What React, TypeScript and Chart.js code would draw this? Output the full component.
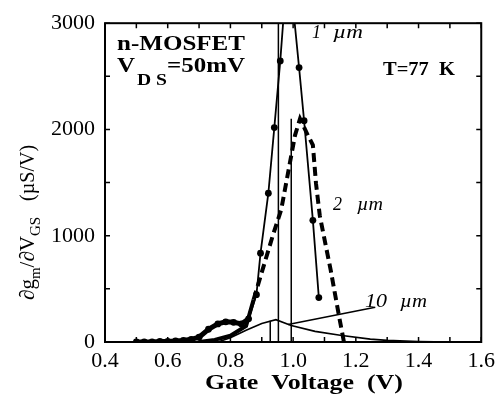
import { useEffect, useRef } from "react";
import { Chart, registerables } from "chart.js";

Chart.register(...registerables);

// Gate voltage (V) and ∂gm/∂VGS (µS/V) for three channel lengths at 77 K
const gateV1um = [0.5, 0.525, 0.55, 0.575, 0.6, 0.625, 0.65, 0.675, 0.7, 0.73, 0.76, 0.785, 0.81, 0.835, 0.858, 0.883, 0.896, 0.921, 0.94, 0.959, 0.968, 1.005, 1.019, 1.035, 1.063, 1.082];
const dgm1um = [0, 0, 0, 5, 5, 10, 15, 25, 45, 120, 170, 190, 185, 170, 218, 445, 836, 1400, 2018, 2645, 3000, 3000, 2582, 2082, 1145, 418];

const gateV2um = [0.7, 0.75, 0.8, 0.85, 0.874, 0.911, 0.935, 0.962, 0.99, 1.006, 1.022, 1.047, 1.063, 1.073, 1.085, 1.12, 1.148, 1.158, 1.162];
const dgm2um = [0, 20, 60, 150, 400, 764, 1000, 1245, 1690, 1945, 2100, 1945, 1854, 1490, 1190, 673, 218, 64, 0];

const gateV10um = [0.76, 0.8, 0.85, 0.9, 0.945, 0.994, 1.07, 1.15, 1.246, 1.3, 1.4, 1.5, 1.6];
const dgm10um = [0, 40, 110, 175, 210, 155, 100, 64, 27, 15, 5, 0, 0];

// Vertical markers at the peak voltages
const peakV = [0.927, 0.953, 0.994];
const peakTop = [200, 3000, 2100];

// Leader line from the "10 µm" label to its curve
const leaderV = [0.984, 1.262];
const leaderG = [164, 327];

const xTickValues = [0.4, 0.6, 0.8, 1.0, 1.2, 1.4, 1.6];
const yTickValues = [0, 1000, 2000, 3000];
const xMinorStep = 0.1;
const yMinorStep = 500;

// below this gate voltage the measured traces are drawn heavy
const heavyBelow = 0.86;

const toPoints = (xs: number[], ys: number[]) => xs.map((x, i) => ({ x, y: ys[i] }));

const SERIF = '"Liberation Serif"';

function fitText(ctx: CanvasRenderingContext2D, text: string, x: number, y: number, width?: number) {
  if (!width) {
    ctx.fillText(text, x, y);
    return;
  }
  const w = ctx.measureText(text).width;
  ctx.save();
  ctx.translate(x, y);
  ctx.scale(width / w, 1);
  ctx.fillText(text, 0, 0);
  ctx.restore();
}

const framePlugin = {
  id: "frameAndNotes",
  afterDraw(chart: any) {
    const { ctx, chartArea, scales } = chart;
    const { left, right, top, bottom } = chartArea;
    const xs = scales.x;
    const ys = scales.y;
    ctx.save();
    ctx.strokeStyle = "#000";
    ctx.fillStyle = "#000";
    ctx.lineWidth = 2;
    ctx.strokeRect(left, top, right - left, bottom - top);

    // inward ticks
    ctx.lineWidth = 1.5;
    const tl = 5;
    ctx.beginPath();
    for (let v = xs.min; v <= xs.max + 1e-9; v += xMinorStep) {
      const px = xs.getPixelForValue(v);
      ctx.moveTo(px, bottom);
      ctx.lineTo(px, bottom - tl);
      ctx.moveTo(px, top);
      ctx.lineTo(px, top + tl);
    }
    for (let v = ys.min; v <= ys.max + 1e-9; v += yMinorStep) {
      const py = ys.getPixelForValue(v);
      ctx.moveTo(left, py);
      ctx.lineTo(left + tl, py);
      ctx.moveTo(right, py);
      ctx.lineTo(right - tl, py);
    }
    ctx.stroke();

    // annotations
    ctx.textBaseline = "alphabetic";
    ctx.textAlign = "left";
    ctx.font = `bold 21px ${SERIF}`;
    fitText(ctx, "n-MOSFET", 117, 50, 128);
    fitText(ctx, "V", 117, 72, 18);
    fitText(ctx, "=50mV", 167, 72, 78);
    ctx.font = `bold 16px ${SERIF}`;
    fitText(ctx, "D S", 137, 85, 30);
    ctx.font = `bold 19px ${SERIF}`;
    fitText(ctx, "T=77  K", 383, 75, 72);

    ctx.font = `italic 18px ${SERIF}`;
    fitText(ctx, "1", 312, 38);
    fitText(ctx, "µm", 333, 38, 30);
    fitText(ctx, "2", 333, 210);
    fitText(ctx, "µm", 357, 210, 26);
    fitText(ctx, "10", 365, 307, 22);
    fitText(ctx, "µm", 400, 307, 27);

    // x axis title
    ctx.font = `bold 20px ${SERIF}`;
    fitText(ctx, "Gate  Voltage  (V)", 205, 389, 198);

    // y axis title, rotated
    ctx.save();
    ctx.translate(34, 300);
    ctx.rotate(-Math.PI / 2);
    let cx = 0;
    const part = (t: string, size: number, dy: number) => {
      ctx.font = `${size}px ${SERIF}`;
      ctx.fillText(t, cx, dy);
      cx += ctx.measureText(t).width;
    };
    part("∂g", 21, 0);
    part("m", 15, 6);
    part("/∂V", 21, 0);
    part("GS", 15, 6);
    cx += 16;
    part("(µS/V)", 20, 0);
    ctx.restore();

    ctx.restore();
  },
};

export default function App() {
  const ref = useRef<HTMLCanvasElement | null>(null);

  useEffect(() => {
    const canvas = ref.current;
    if (!canvas) return;
    let chart: Chart | null = null;
    let cancelled = false;

    const build = () => {
      if (cancelled) return;
      const peakLines = peakV.map((v, i) => ({
        data: [
          { x: v, y: 0 },
          { x: v, y: peakTop[i] },
        ],
        borderColor: "#000",
        borderWidth: 1.5,
        pointRadius: 0,
        showLine: true,
      }));

      const points1um = toPoints(gateV1um, dgm1um);

      chart = new Chart(canvas, {
        type: "scatter",
        data: {
          datasets: [
            ...peakLines,
            {
              label: "10 µm",
              data: toPoints(gateV10um, dgm10um),
              borderColor: "#000",
              borderWidth: 1.6,
              pointRadius: 0,
              showLine: true,
            },
            {
              label: "leader",
              data: toPoints(leaderV, leaderG),
              borderColor: "#000",
              borderWidth: 1.6,
              pointRadius: 0,
              showLine: true,
            },
            {
              label: "2 µm",
              data: toPoints(gateV2um, dgm2um),
              borderColor: "#000",
              borderWidth: 4,
              borderCapStyle: "butt",
              pointRadius: 0,
              showLine: true,
              segment: {
                borderDash: (c: any) => (c.p0.parsed.x < heavyBelow ? [] : [9, 5]),
              },
            },
            {
              label: "1 µm (heavy foot)",
              data: points1um.filter((p) => p.x <= heavyBelow),
              borderColor: "#000",
              borderWidth: 5,
              pointRadius: 0,
              showLine: true,
            },
            {
              label: "1 µm",
              data: points1um,
              borderColor: "#000",
              borderWidth: 1.8,
              pointRadius: (c: any) => (c.raw && c.raw.y >= 3000 ? 0 : 3.4),
              pointBackgroundColor: "#000",
              pointBorderWidth: 0,
              showLine: true,
            },
          ] as any,
        },
        options: {
          responsive: false,
          animation: false,
          devicePixelRatio: 1,
          layout: { padding: { top: 14, right: 18, left: 0, bottom: 0 } },
          plugins: {
            legend: { display: false },
            tooltip: { enabled: false },
          },
          scales: {
            x: {
              type: "linear",
              min: 0.4,
              max: 1.6,
              afterBuildTicks: (s: any) => {
                s.ticks = xTickValues.map((value) => ({ value }));
              },
              afterFit: (s: any) => {
                s.height = 66;
              },
              ticks: {
                color: "#000",
                font: { family: SERIF, size: 22 },
                padding: 6,
                maxRotation: 0,
                callback: (v: any) => Number(v).toFixed(1),
              },
              grid: { display: false, drawTicks: false },
              border: { display: false },
            },
            y: {
              type: "linear",
              min: 0,
              max: 3000,
              afterBuildTicks: (s: any) => {
                s.ticks = yTickValues.map((value) => ({ value }));
              },
              afterFit: (s: any) => {
                s.width = 105;
              },
              ticks: {
                color: "#000",
                font: { family: SERIF, size: 22 },
                padding: 10,
                callback: (v: any) => String(v),
              },
              grid: { display: false, drawTicks: false },
              border: { display: false },
            },
          },
        },
        plugins: [framePlugin],
      } as any);
    };

    const fonts = (document as any).fonts;
    if (fonts && fonts.load) {
      Promise.all([
        fonts.load('21px "Liberation Serif"'),
        fonts.load('bold 21px "Liberation Serif"'),
        fonts.load('italic 18px "Liberation Serif"'),
      ])
        .catch(() => undefined)
        .then(build);
    } else {
      build();
    }

    return () => {
      cancelled = true;
      if (chart) chart.destroy();
    };
  }, []);

  return (
    <div style={{ position: "fixed", left: 0, top: 0, width: 501, height: 408, background: "#fff" }}>
      <canvas ref={ref} width={501} height={408} style={{ display: "block" }} />
    </div>
  );
}
